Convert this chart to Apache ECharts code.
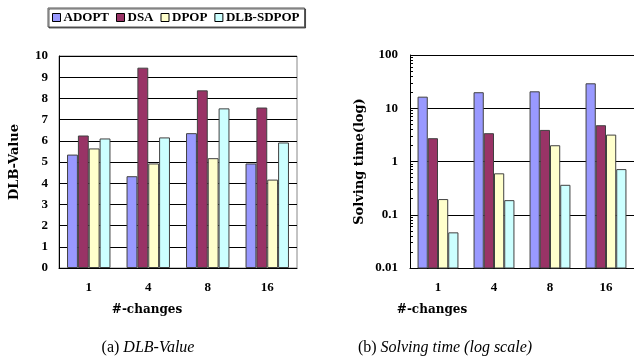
<!DOCTYPE html>
<html>
<head>
<meta charset="utf-8">
<script src="https://cdn.jsdelivr.net/npm/echarts@6/dist/echarts.min.js"></script>
<style>
html,body{margin:0;padding:0;background:#fff;}
#c{width:634px;height:362px;}
</style>
</head>
<body>
<div id="c"></div>
<script>
var categories = ['1', '4', '8', '16'];
var seriesNames = ['ADOPT', 'DSA', 'DPOP', 'DLB-SDPOP'];
var dlbADOPT = [5.35, 4.33, 6.36, 4.93];
var dlbDSA = [6.25, 9.45, 8.38, 7.57];
var dlbDPOP = [5.64, 4.93, 5.18, 4.17];
var dlbSDPOP = [6.11, 6.16, 7.53, 5.92];
var timeADOPT = [16.5, 20.0, 20.8, 29.4];
var timeDSA = [2.74, 3.4, 3.92, 4.8];
var timeDPOP = [0.197, 0.60, 2.02, 3.2];
var timeSDPOP = [0.0467, 0.188, 0.365, 0.72];
// tiny hidden base so bars on the log axis rise from the bottom of the plot
var logBase = [0.000001, 0.000001, 0.000001, 0.000001];
var logTicks = [0.01,0.02,0.03,0.04,0.05,0.06,0.07,0.08,0.09,
  0.1,0.2,0.3,0.4,0.5,0.6,0.7,0.8,0.9,
  1,2,3,4,5,6,7,8,9,
  10,20,30,40,50,60,70,80,90,100];
var logLabels = [0.01, 0.1, 1, 10, 100];
var colors = ['#9999FF', '#993366', '#FFFFCC', '#CCFFFF'];

var chart = echarts.init(document.getElementById('c'));
var serif = 'Liberation Serif';
var lab = {color: '#000', fontFamily: serif, fontWeight: 'bold', fontSize: 13};
function bars(name, data, idx, ci, stack) {
  var s = {
    name: name, type: 'bar', data: data, xAxisIndex: idx, yAxisIndex: idx,
    barGap: '0%', barCategoryGap: '27%', clip: true,
    itemStyle: {color: colors[ci], borderColor: '#404040', borderWidth: 1},
    emphasis: {disabled: true}
  };
  if (stack) s.stack = stack;
  return s;
}
function baseBar(stack) {
  return {
    name: 'base-' + stack, type: 'bar', data: logBase, xAxisIndex: 1, yAxisIndex: 1,
    stack: stack, barGap: '0%', barCategoryGap: '27%', clip: true,
    itemStyle: {color: 'rgba(0,0,0,0)', borderWidth: 0},
    emphasis: {disabled: true}, silent: true
  };
}
var capN = {fontFamily: serif, fontSize: 16, fontWeight: 'normal', color: '#000'};
var capI = {fontFamily: serif, fontSize: 16, fontWeight: 'normal', fontStyle: 'italic', color: '#000'};
var option = {
  animation: false,
  backgroundColor: '#fff',
  color: colors,
  legend: {
    left: 48, top: 8, data: seriesNames,
    itemWidth: 8, itemHeight: 8, itemGap: 7,
    icon: 'rect',
    itemStyle: {borderColor: '#000', borderWidth: 1},
    padding: [3, 5, 3, 4],
    borderColor: '#555', borderWidth: 1,
    shadowColor: 'rgba(0,0,0,0.6)', shadowOffsetX: 1, shadowOffsetY: 1, shadowBlur: 0,
    backgroundColor: '#fff',
    textStyle: {color: '#000', fontFamily: serif, fontWeight: 'bold', fontSize: 13, padding: [0, 0, 0, -2]}
  },
  title: [
    {text: '{n|(a) }{i|DLB-Value}', left: 143, top: 335, textAlign: 'center',
     textStyle: {fontWeight: 'normal', rich: {n: capN, i: capI}}},
    {text: '{n|(b) }{i|Solving time (log scale)}', left: 440, top: 335, textAlign: 'center',
     textStyle: {fontWeight: 'normal', rich: {n: capN, i: capI}}}
  ],
  grid: [
    {left: 59, right: 337, top: 56, bottom: 94, show: true, borderColor: '#888', borderWidth: 1},
    {left: 410, right: -4, top: 55, bottom: 94}
  ],
  xAxis: [
    {type: 'category', gridIndex: 0, data: categories,
     axisLine: {lineStyle: {color: '#000'}},
     axisTick: {inside: true, length: 4, lineStyle: {color: '#000'}},
     axisLabel: Object.assign({margin: 13}, lab),
     name: '#-changes', nameLocation: 'middle', nameGap: 36,
     nameTextStyle: {color: '#000', fontFamily: 'DejaVu Serif', fontWeight: 'bold', fontSize: 12, padding: [0, 62, 0, 0]}},
    {type: 'category', gridIndex: 1, data: categories,
     axisLine: {lineStyle: {color: '#000'}},
     axisTick: {inside: true, length: 4, lineStyle: {color: '#000'}},
     axisLabel: Object.assign({margin: 13}, lab),
     name: '#-changes', nameLocation: 'middle', nameGap: 36,
     nameTextStyle: {color: '#000', fontFamily: 'DejaVu Serif', fontWeight: 'bold', fontSize: 12, padding: [0, 180, 0, 0]}}
  ],
  yAxis: [
    {type: 'value', gridIndex: 0, min: 0, max: 10, interval: 1,
     axisLine: {show: true, lineStyle: {color: '#000'}},
     axisTick: {show: false},
     splitLine: {lineStyle: {color: '#000', width: 1}},
     axisLabel: Object.assign({margin: 11}, lab),
     name: 'DLB-Value', nameLocation: 'middle', nameGap: 38, nameRotate: 90,
     nameTextStyle: {color: '#000', fontFamily: 'DejaVu Serif', fontWeight: 'bold', fontSize: 13}},
    {type: 'log', gridIndex: 1, logBase: 10, min: 0.01, max: 100,
     axisLine: {show: true, lineStyle: {color: '#000'}},
     axisTick: {show: true, inside: true, length: 3, customValues: logTicks, lineStyle: {color: '#000'}},
     splitLine: {show: false},
     axisLabel: Object.assign({margin: 12, customValues: logLabels, formatter: function (v) { return String(+(+v).toPrecision(3)); }}, lab),
     name: 'Solving time(log)', nameLocation: 'middle', nameGap: 44, nameRotate: 90,
     nameTextStyle: {color: '#000', fontFamily: 'DejaVu Serif', fontWeight: 'bold', fontSize: 13}},
    {type: 'log', gridIndex: 1, logBase: 10, min: 0.01, max: 100,
     axisLine: {show: false}, axisTick: {show: false}, axisLabel: {show: false},
     splitLine: {show: true, lineStyle: {color: '#000', width: 1}}}
  ],
  series: [
    bars('ADOPT', dlbADOPT, 0, 0), bars('DSA', dlbDSA, 0, 1), bars('DPOP', dlbDPOP, 0, 2), bars('DLB-SDPOP', dlbSDPOP, 0, 3),
    baseBar('a'), bars('ADOPT', timeADOPT, 1, 0, 'a'),
    baseBar('b'), bars('DSA', timeDSA, 1, 1, 'b'),
    baseBar('c'), bars('DPOP', timeDPOP, 1, 2, 'c'),
    baseBar('d'), bars('DLB-SDPOP', timeSDPOP, 1, 3, 'd')
  ]
};
chart.setOption(option);
</script>
</body>
</html>
